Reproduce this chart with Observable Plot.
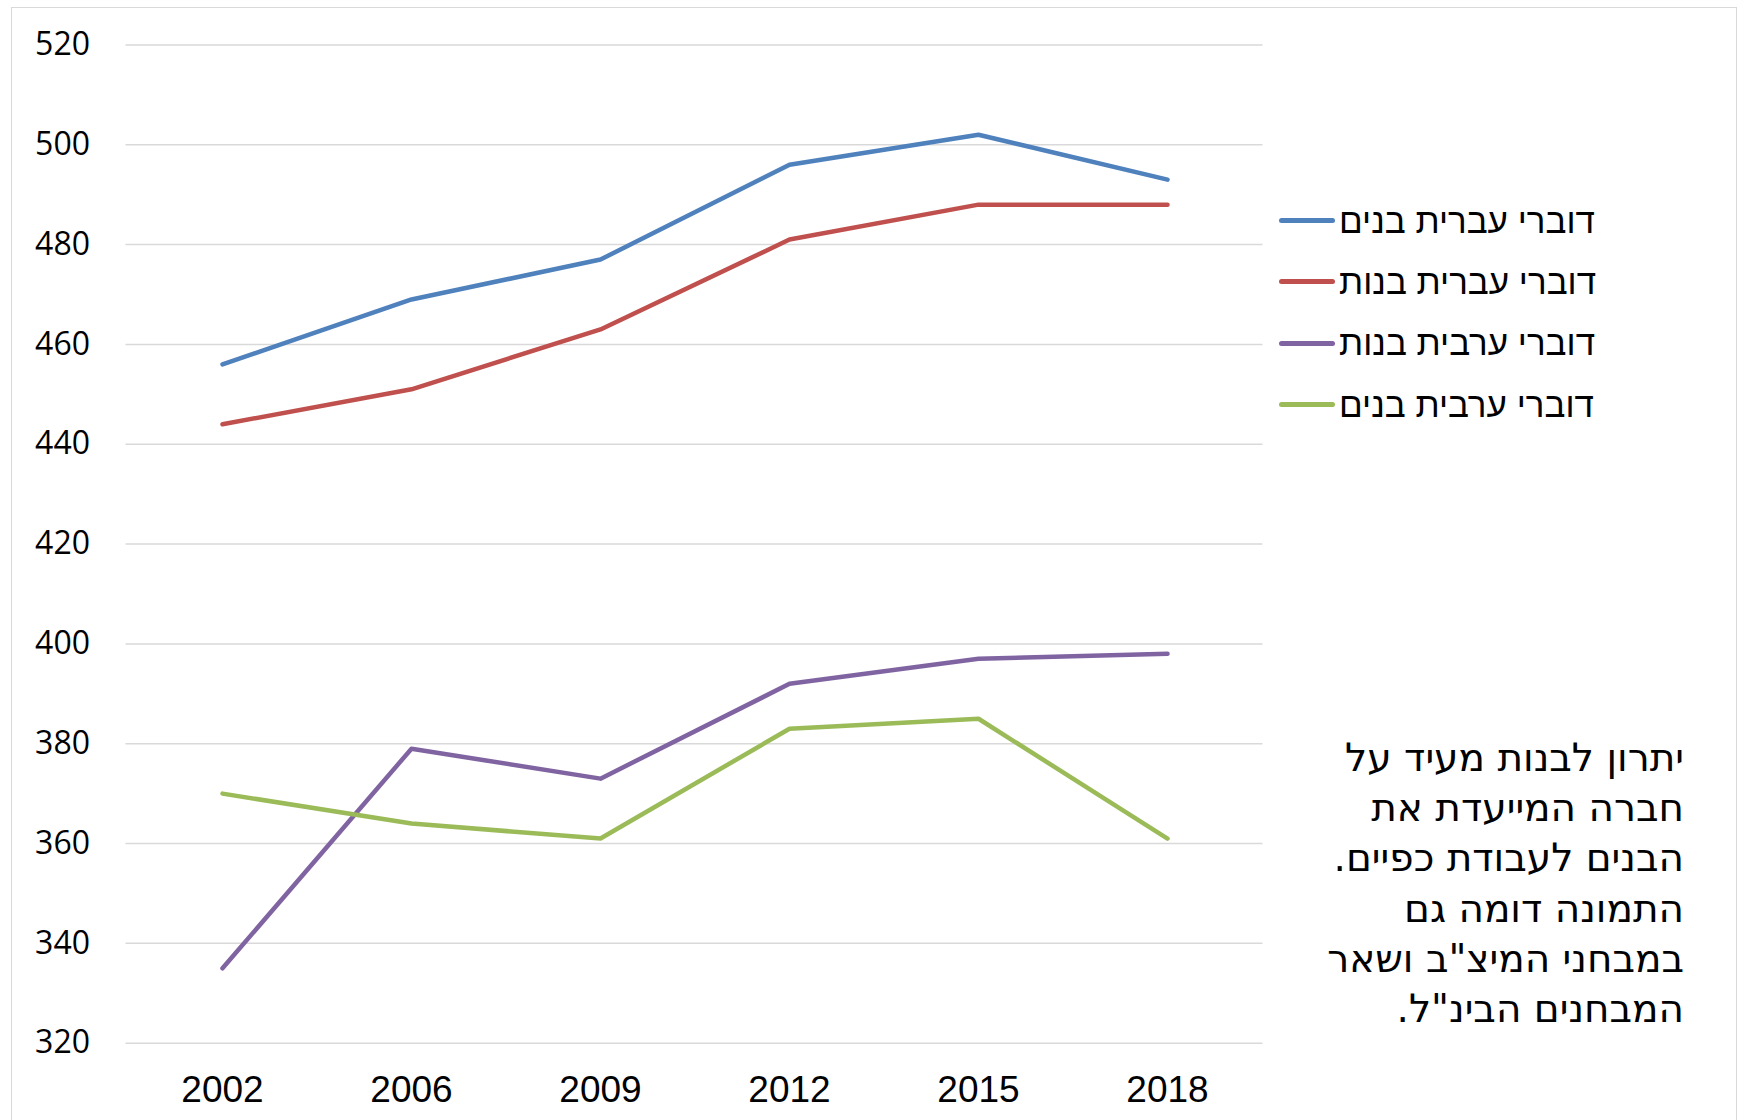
<!DOCTYPE html>
<html><head><meta charset="utf-8">
<script src="https://cdn.jsdelivr.net/npm/d3@7"></script>
<script src="https://cdn.jsdelivr.net/npm/@observablehq/plot@0.6"></script>
<style>
html,body{margin:0;padding:0;background:#fff;}
#wrap{position:relative;width:1741px;height:1120px;overflow:hidden;}
#frame{position:absolute;left:11px;top:7px;width:1726px;height:1200px;border:1.5px solid #d9d9d9;box-sizing:border-box;}
#legend{position:absolute;left:1279px;top:190px;font-family:"Liberation Sans",Arial,sans-serif;font-size:35px;color:#000;}
.row{display:flex;align-items:center;height:61.3px;}
.sw{width:56px;height:5px;border-radius:3px;}
.lt{direction:rtl;margin-left:4px;white-space:nowrap;}
#note{position:absolute;right:57px;top:733px;direction:rtl;text-align:right;font-family:"DejaVu Sans",sans-serif;font-size:39px;line-height:50.2px;color:#000;}
</style></head>
<body><div id="wrap"><div id="frame"></div><div id="chart"></div><div id="legend"></div><div id="note"></div></div>
<script>
const years = ["2002","2006","2009","2012","2015","2018"];
const seriesNames = ["דוברי עברית בנים","דוברי עברית בנות","דוברי ערבית בנות","דוברי ערבית בנים"];
const hebrewBoys  = [456, 469, 477, 496, 502, 493];
const hebrewGirls = [444, 451, 463, 481, 488, 488];
const arabicGirls = [335, 379, 373, 392, 397, 398];
const arabicBoys  = [370, 364, 361, 383, 385, 361];
const seriesColors = ["#4F81BD","#C0504D","#8064A2","#9BBB59"];
const yTicks = [320,340,360,380,400,420,440,460,480,500,520];
const noteLines = ["יתרון לבנות מעיד על","חברה המייעדת את","הבנים לעבודת כפיים.","התמונה דומה גם","במבחני המיצ\"ב ושאר","המבחנים הבינ\"ל."];

const allValues = [hebrewBoys, hebrewGirls, arabicGirls, arabicBoys];
const data = [];
allValues.forEach((vals, i) => vals.forEach((v, j) => data.push({year: years[j], value: v, series: seriesNames[i]})));

const chart = Plot.plot({
  width: 1741, height: 1120,
  marginLeft: 125.5, marginRight: 478.5, marginTop: 44.4, marginBottom: 77.3,
  x: {type: "point", domain: years, padding: 0.5},
  y: {domain: [320, 520]},
  color: {domain: seriesNames, range: seriesColors},
  marks: [
    Plot.gridY(yTicks, {stroke: "#d9d9d9", strokeOpacity: 1, strokeWidth: 1.5}),
    Plot.axisY(yTicks, {tickSize: 0, tickPadding: 36, fontSize: 32, fontFamily: "Open Sans", fill: "#000", label: null}),
    Plot.axisX({tickSize: 0, tickPadding: 33, fontSize: 37, fontFamily: "Liberation Sans", fill: "#000", label: null}),
    Plot.line(data, {x: "year", y: "value", z: "series", stroke: "series", strokeWidth: 4.5, strokeLinecap: "round", strokeLinejoin: "round"})
  ]
});
chart.style.position = "absolute";
chart.style.left = "0px";
chart.style.top = "0px";
document.getElementById("chart").appendChild(chart);

const legend = document.getElementById("legend");
seriesNames.forEach((n, i) => {
  const r = document.createElement("div"); r.className = "row";
  const s = document.createElement("div"); s.className = "sw"; s.style.background = seriesColors[i];
  const t = document.createElement("div"); t.className = "lt"; t.textContent = n;
  r.appendChild(s); r.appendChild(t); legend.appendChild(r);
});
const note = document.getElementById("note");
noteLines.forEach(l => { const d = document.createElement("div"); d.textContent = l; note.appendChild(d); });
</script></body></html>
